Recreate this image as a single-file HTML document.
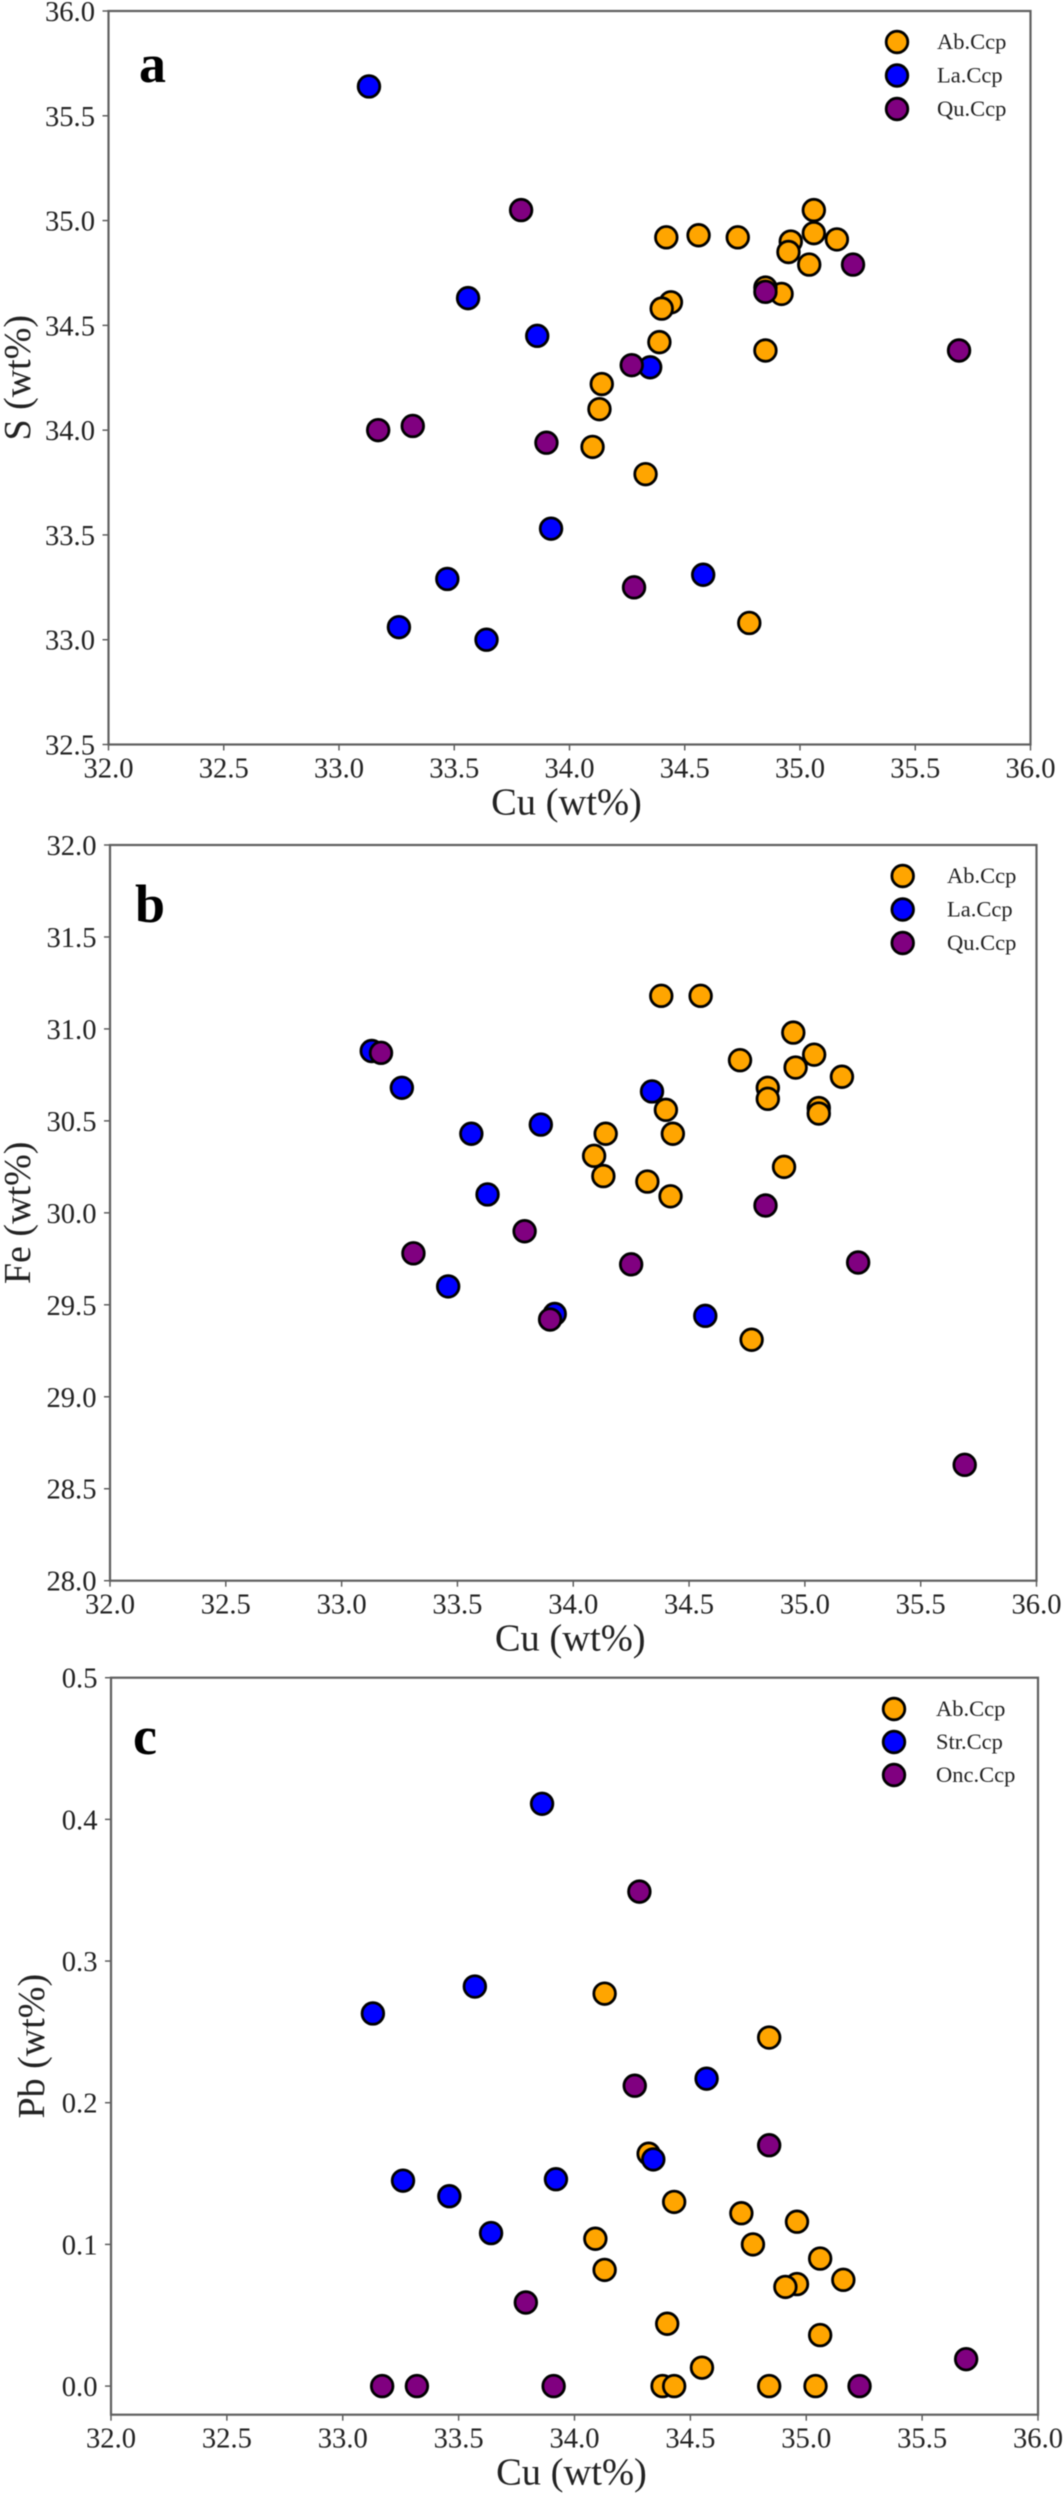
<!DOCTYPE html>
<html lang="en">
<head>
<meta charset="utf-8">
<title>Cu vs S, Fe and Pb scatter plots</title>
<style>
html,body{margin:0;padding:0;background:#fff;}
body{width:1064px;height:2500px;overflow:hidden;}
svg{display:block;filter:blur(0.4px);}
text{font-family:"Liberation Serif","Times New Roman",serif;fill:#222;}
</style>
</head>
<body>
<svg id="chart" width="1064" height="2500" viewBox="0 0 1064 2500" xmlns="http://www.w3.org/2000/svg"></svg>
<script>
// Shared tick labels
const xTickLabels = [32.0, 32.5, 33.0, 33.5, 34.0, 34.5, 35.0, 35.5, 36.0];
const yTicksA = [32.5, 33.0, 33.5, 34.0, 34.5, 35.0, 35.5, 36.0];
const yTicksB = [28.0, 28.5, 29.0, 29.5, 30.0, 30.5, 31.0, 31.5, 32.0];
const yTicksC = [0.0, 0.1, 0.2, 0.3, 0.4, 0.5];

// Panel a: S vs Cu
const aAbCu = [34.42,34.56,34.73,34.96,34.95,35.06,35.06,35.16,35.04,34.92,34.85,34.85,34.44,34.40,34.39,34.14,34.13,34.10,34.33,34.78];
const aAbS  = [34.92,34.93,34.92,34.90,34.85,35.05,34.94,34.91,34.79,34.65,34.68,34.38,34.61,34.58,34.42,34.22,34.10,33.92,33.79,33.08];
const aLaCu = [33.13,33.56,33.86,34.35,33.92,33.47,34.58,33.26,33.64];
const aLaS  = [35.64,34.63,34.45,34.30,33.53,33.29,33.31,33.06,33.00];
const aQuCu = [33.79,33.17,33.32,33.90,34.27,34.85,35.23,35.69,34.28];
const aQuS  = [35.05,34.00,34.02,33.94,34.31,34.66,34.79,34.38,33.25];

// Panel b: Fe vs Cu
const bAbCu = [34.38,34.55,34.95,34.72,35.04,34.96,35.16,34.84,34.84,35.06,35.06,34.40,34.14,34.43,34.09,34.13,34.32,34.42,34.91,34.77];
const bAbFe = [31.18,31.18,30.98,30.83,30.86,30.79,30.74,30.68,30.62,30.57,30.54,30.56,30.43,30.43,30.31,30.20,30.17,30.09,30.25,29.31];
const bLaCu = [33.13,33.26,33.56,33.86,34.34,33.63,33.46,33.92,34.57];
const bLaFe = [30.88,30.68,30.43,30.48,30.66,30.10,29.60,29.45,29.44];
const bQuCu = [33.17,33.31,33.79,33.90,34.25,34.83,35.23,35.69];
const bQuFe = [30.87,29.78,29.90,29.42,29.72,30.04,29.73,28.63];

// Panel c: Pb vs Cu
const cAbCu = [34.13,34.84,34.32,34.43,34.72,34.96,34.09,34.77,35.06,34.13,35.16,34.96,34.91,35.06,34.40,34.55,34.38,34.43,34.84,35.04];
const cAbPb = [0.277,0.246,0.164,0.130,0.122,0.116,0.104,0.100,0.090,0.082,0.075,0.072,0.070,0.036,0.044,0.013,0.000,0.000,0.000,0.000];
const cStrCu = [33.13,33.86,33.57,34.57,34.34,33.26,33.92,33.46,33.64];
const cStrPb = [0.263,0.411,0.282,0.217,0.160,0.145,0.146,0.134,0.108];
const cOncCu = [34.28,34.26,34.84,33.79,35.69,33.17,33.32,33.91,35.23];
const cOncPb = [0.349,0.212,0.170,0.059,0.019,0.000,0.000,0.000,0.000];

const legendA = ["Ab.Ccp", "La.Ccp", "Qu.Ccp"];
const legendC = ["Ab.Ccp", "Str.Ccp", "Onc.Ccp"];

const ORANGE = "#FFA500", BLUE = "#0000FF", PURPLE = "#800080";
const svg = document.getElementById("chart");
const NS = "http://www.w3.org/2000/svg";

function make(tag, attrs, parent) {
  const el = document.createElementNS(NS, tag);
  for (const k in attrs) el.setAttribute(k, attrs[k]);
  parent.appendChild(el);
  return el;
}

function linearScale(d0, d1, r0, r1) {
  return function (v) { return r0 + (v - d0) / (d1 - d0) * (r1 - r0); };
}

function drawPanel(p) {
  const g = make("g", {}, svg);
  
  

  const sx = linearScale(32, 36, p.left, p.right);
  const sy = linearScale(p.yMin, p.yMax, p.bottom, p.top);

  // x ticks
  xTickLabels.forEach(function (t) {
    const x = sx(t);
    const tick = make("line", {x1: x, x2: x, y1: p.bottom, y2: p.bottom + 6, stroke: "#555", "stroke-width": 1.4}, g);
    
    
    const lab = make("text", {x: x, y: p.bottom + 33, "text-anchor": "middle", "font-size": 28.6}, g);
    
    
    lab.textContent = t.toFixed(1);
  });

  // y ticks
  p.yTicks.forEach(function (t) {
    const y = sy(t);
    const tick = make("line", {x1: p.left - 6, x2: p.left, y1: y, y2: y, stroke: "#555", "stroke-width": 1.4}, g);
    
    
    const lab = make("text", {x: p.left - 13.5, y: y + 10, "text-anchor": "end", "font-size": 28.6}, g);
    
    
    lab.textContent = t.toFixed(1);
  });

  // frame
  const frame = make("rect", {x: p.left, y: p.top, width: p.right - p.left, height: p.bottom - p.top, fill: "none", stroke: "#5f5f5f", "stroke-width": 2.2}, g);
  
  

  // series points
  p.series.forEach(function (s) {
    const sg = make("g", {}, g);
    
    
    s.xs.forEach(function (xv, i) {
      const c = make("circle", {cx: sx(xv), cy: sy(s.ys[i]), r: 10.8, fill: s.color, stroke: "#000", "stroke-width": 2.8}, sg);
      
      
    });
  });

  // axis titles
  const xt = make("text", {x: (p.left + p.right) / 2 + p.xTitleDx, y: p.bottom + 70, "text-anchor": "middle", "font-size": 38.5}, g);
  
  
  xt.textContent = "Cu (wt%)";

  const yCenter = (p.top + p.bottom) / 2;
  const yt = make("text", {x: p.yTitleX, y: yCenter, "text-anchor": "middle", "font-size": 38, transform: "rotate(-90 " + p.yTitleX + " " + yCenter + ")"}, g);
  
  
  yt.textContent = p.yTitle;

  // panel letter
  const letter = make("text", {x: p.letterX, y: p.letterY, "font-size": 54, "font-weight": "bold"}, g);
  
  
  letter.setAttribute("style", "fill:#000");
  letter.textContent = p.letter;

  // legend
  const lg = make("g", {}, g);
  
  
  p.legend.forEach(function (txt, i) {
    const y = p.legY + i * p.legStep;
    const m = make("circle", {cx: p.legX, cy: y, r: 10.8, fill: p.series[i].color, stroke: "#000", "stroke-width": 2.8}, lg);
    
    
    const t = make("text", {x: p.legTextX, y: y + 7, "font-size": 22.5}, lg);
    
    
    t.textContent = txt;
  });
}

drawPanel({
  name: "panel-a-s-vs-cu", letter: "a", letterX: 139, letterY: 82,
  left: 108.5, right: 1030.5, top: 11, bottom: 744.5,
  yMin: 32.5, yMax: 36, yTicks: yTicksA, yTitle: "S (wt%)", yTitleX: 30, xTitleDx: -3,
  legend: legendA, legX: 897, legY: 42, legStep: 33.5, legTextX: 937,
  series: [
    {name: "series-ab-ccp", color: ORANGE, xs: aAbCu, ys: aAbS},
    {name: "series-la-ccp", color: BLUE, xs: aLaCu, ys: aLaS},
    {name: "series-qu-ccp", color: PURPLE, xs: aQuCu, ys: aQuS}
  ]
});

drawPanel({
  name: "panel-b-fe-vs-cu", letter: "b", letterX: 135, letterY: 922,
  left: 110, right: 1036.5, top: 845, bottom: 1580.7,
  yMin: 28, yMax: 32, yTicks: yTicksB, yTitle: "Fe (wt%)", yTitleX: 30, xTitleDx: -3,
  legend: legendA, legX: 902.7, legY: 876, legStep: 33.5, legTextX: 947,
  series: [
    {name: "series-ab-ccp", color: ORANGE, xs: bAbCu, ys: bAbFe},
    {name: "series-la-ccp", color: BLUE, xs: bLaCu, ys: bLaFe},
    {name: "series-qu-ccp", color: PURPLE, xs: bQuCu, ys: bQuFe}
  ]
});

drawPanel({
  name: "panel-c-pb-vs-cu", letter: "c", letterX: 133, letterY: 1754,
  left: 111, right: 1038, top: 1677.7, bottom: 2414.7,
  yMin: -0.0202, yMax: 0.5, yTicks: yTicksC, yTitle: "Pb (wt%)", yTitleX: 44, xTitleDx: -3,
  legend: legendC, legX: 894, legY: 1709, legStep: 33, legTextX: 936,
  series: [
    {name: "series-ab-ccp", color: ORANGE, xs: cAbCu, ys: cAbPb},
    {name: "series-str-ccp", color: BLUE, xs: cStrCu, ys: cStrPb},
    {name: "series-onc-ccp", color: PURPLE, xs: cOncCu, ys: cOncPb}
  ]
});
</script>
</body>
</html>
